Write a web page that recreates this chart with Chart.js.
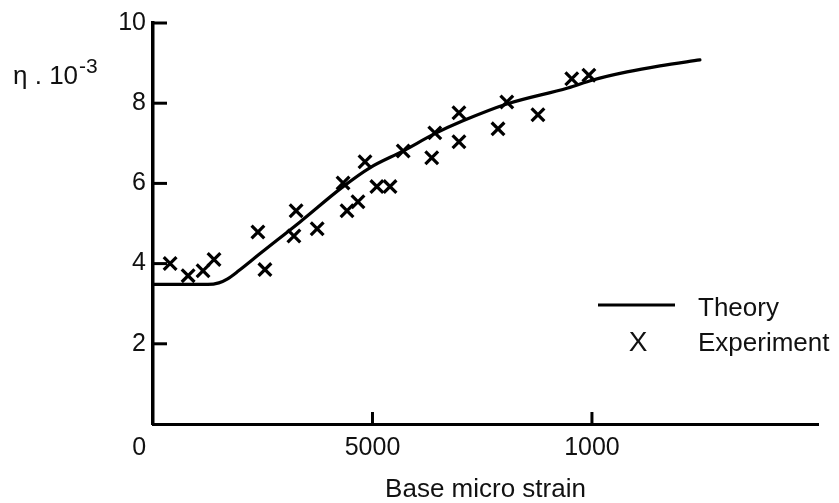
<!DOCTYPE html>
<html>
<head>
<meta charset="utf-8">
<script src="https://cdn.jsdelivr.net/npm/chart.js@4.4.1/dist/chart.umd.min.js"></script>
<style>
  html, body { margin: 0; padding: 0; background: #fff; }
  #wrap { width: 839px; height: 503px; position: relative; }
</style>
</head>
<body>
<div id="wrap"><canvas id="chart"></canvas></div>
<script>
// Theory curve
const theoryStrain = [0, 1250, 1500, 1700, 1950, 2440, 3350, 4330, 4940, 5700, 6420, 7060, 8060, 9450, 10020, 10800, 11550, 12460];
const theoryEta    = [3.48, 3.48, 3.52, 3.62, 3.82, 4.25, 5.04, 5.92, 6.39, 6.81, 7.24, 7.56, 7.98, 8.38, 8.58, 8.78, 8.93, 9.08];

// Experiment points
const expStrain = [390, 800, 1140, 1390, 2390, 2550, 3260, 3210, 3740, 4330, 4420, 4670, 4830, 5100, 5400, 5700, 6350, 6420, 6970, 6970, 7860, 8060, 8770, 9540, 9930];
const expEta    = [4.00, 3.70, 3.82, 4.10, 4.79, 3.85, 5.32, 4.69, 4.87, 6.01, 5.32, 5.54, 6.54, 5.92, 5.92, 6.81, 6.64, 7.26, 7.76, 7.04, 7.36, 8.03, 7.71, 8.61, 8.70];

// Axis ticks (the original figure labels 10000 as "1000")
const xTickValues = [0, 5000, 10000];
const xTickLabels = ["0", "5000", "1000"];
const yTickValues = [2, 4, 6, 8, 10];

const FONT = '"Liberation Sans", Arial, sans-serif';
const INK = '#111';

const toPoints = (xs, ys) => xs.map((x, i) => ({ x, y: ys[i] }));

// inward tick marks, legend and y title
const overlay = {
  id: 'overlay',
  afterDraw(chart) {
    const { ctx, chartArea, scales: { x, y } } = chart;
    ctx.save();
    ctx.strokeStyle = '#000';
    ctx.lineWidth = 3;
    y.ticks.forEach(t => {
      if (t.value === 0) return;
      const py = y.getPixelForValue(t.value);
      ctx.beginPath();
      ctx.moveTo(chartArea.left, py);
      ctx.lineTo(chartArea.left + 14, py);
      ctx.stroke();
    });
    x.ticks.forEach(t => {
      if (t.value === 0) return;
      const px = x.getPixelForValue(t.value);
      ctx.beginPath();
      ctx.moveTo(px, chartArea.bottom);
      ctx.lineTo(px, chartArea.bottom - 12);
      ctx.stroke();
    });

    // legend
    ctx.beginPath();
    ctx.moveTo(598, 305);
    ctx.lineTo(675, 305);
    ctx.stroke();
    ctx.fillStyle = INK;
    ctx.textBaseline = 'alphabetic';
    ctx.font = '26px ' + FONT;
    ctx.textAlign = 'left';
    ctx.fillText('Theory', 698, 316);
    ctx.fillText('Experiment', 698, 351);
    ctx.textAlign = 'center';
    ctx.font = '28px ' + FONT;
    ctx.fillText('X', 638, 351);

    // y title
    ctx.textAlign = 'left';
    ctx.font = '26px ' + FONT;
    ctx.fillText('\u03b7 . 10', 13, 84);
    const w = ctx.measureText('\u03b7 . 10').width;
    ctx.font = '21px ' + FONT;
    ctx.fillText('-3', 13 + w + 1, 73);
    ctx.restore();
  }
};

new Chart(document.getElementById('chart'), {
  type: 'scatter',
  data: {
    datasets: [
      {
        label: 'Theory',
        type: 'line',
        data: toPoints(theoryStrain, theoryEta),
        borderColor: '#000',
        borderWidth: 3.2,
        pointRadius: 0,
        fill: false,
        cubicInterpolationMode: 'monotone',
        borderCapStyle: 'round'
      },
      {
        label: 'Experiment',
        data: toPoints(expStrain, expEta),
        pointStyle: 'crossRot',
        pointRadius: 9,
        borderColor: '#000',
        borderWidth: 3.2,
        clip: false
      }
    ]
  },
  options: {
    responsive: true,
    maintainAspectRatio: false,
    animation: false,
    layout: { padding: { top: 23, right: 21, left: 0, bottom: 0 } },
    plugins: {
      legend: { display: false },
      tooltip: { enabled: false }
    },
    scales: {
      x: {
        type: 'linear',
        min: 0,
        max: 15150,
        afterFit: s => { s.height = 79; },
        afterBuildTicks: s => { s.ticks = xTickValues.map(v => ({ value: v })); },
        grid: { display: false, drawTicks: false },
        border: { display: true, color: '#000', width: 3 },
        ticks: {
          autoSkip: false,
          maxRotation: 0,
          padding: 9,
          color: INK,
          font: { family: FONT, size: 25 },
          callback: v => {
            const lbl = xTickLabels[xTickValues.indexOf(v)];
            return v === 0 ? lbl + '    ' : lbl;
          }
        },
        title: {
          display: true,
          text: 'Base micro strain',
          color: INK,
          font: { family: FONT, size: 26, lineHeight: 1 },
          padding: { top: 0, bottom: 0 }
        }
      },
      y: {
        type: 'linear',
        min: 0,
        max: 10,
        afterFit: s => { s.width = 153; },
        afterBuildTicks: s => { s.ticks = [0].concat(yTickValues).map(v => ({ value: v })); },
        grid: { display: false, drawTicks: false },
        border: { display: true, color: '#000', width: 3.5 },
        ticks: {
          padding: 7,
          color: INK,
          font: { family: FONT, size: 25 },
          callback: v => (yTickValues.includes(v) ? String(v) : '')
        }
      }
    }
  },
  plugins: [overlay]
});
</script>
</body>
</html>
